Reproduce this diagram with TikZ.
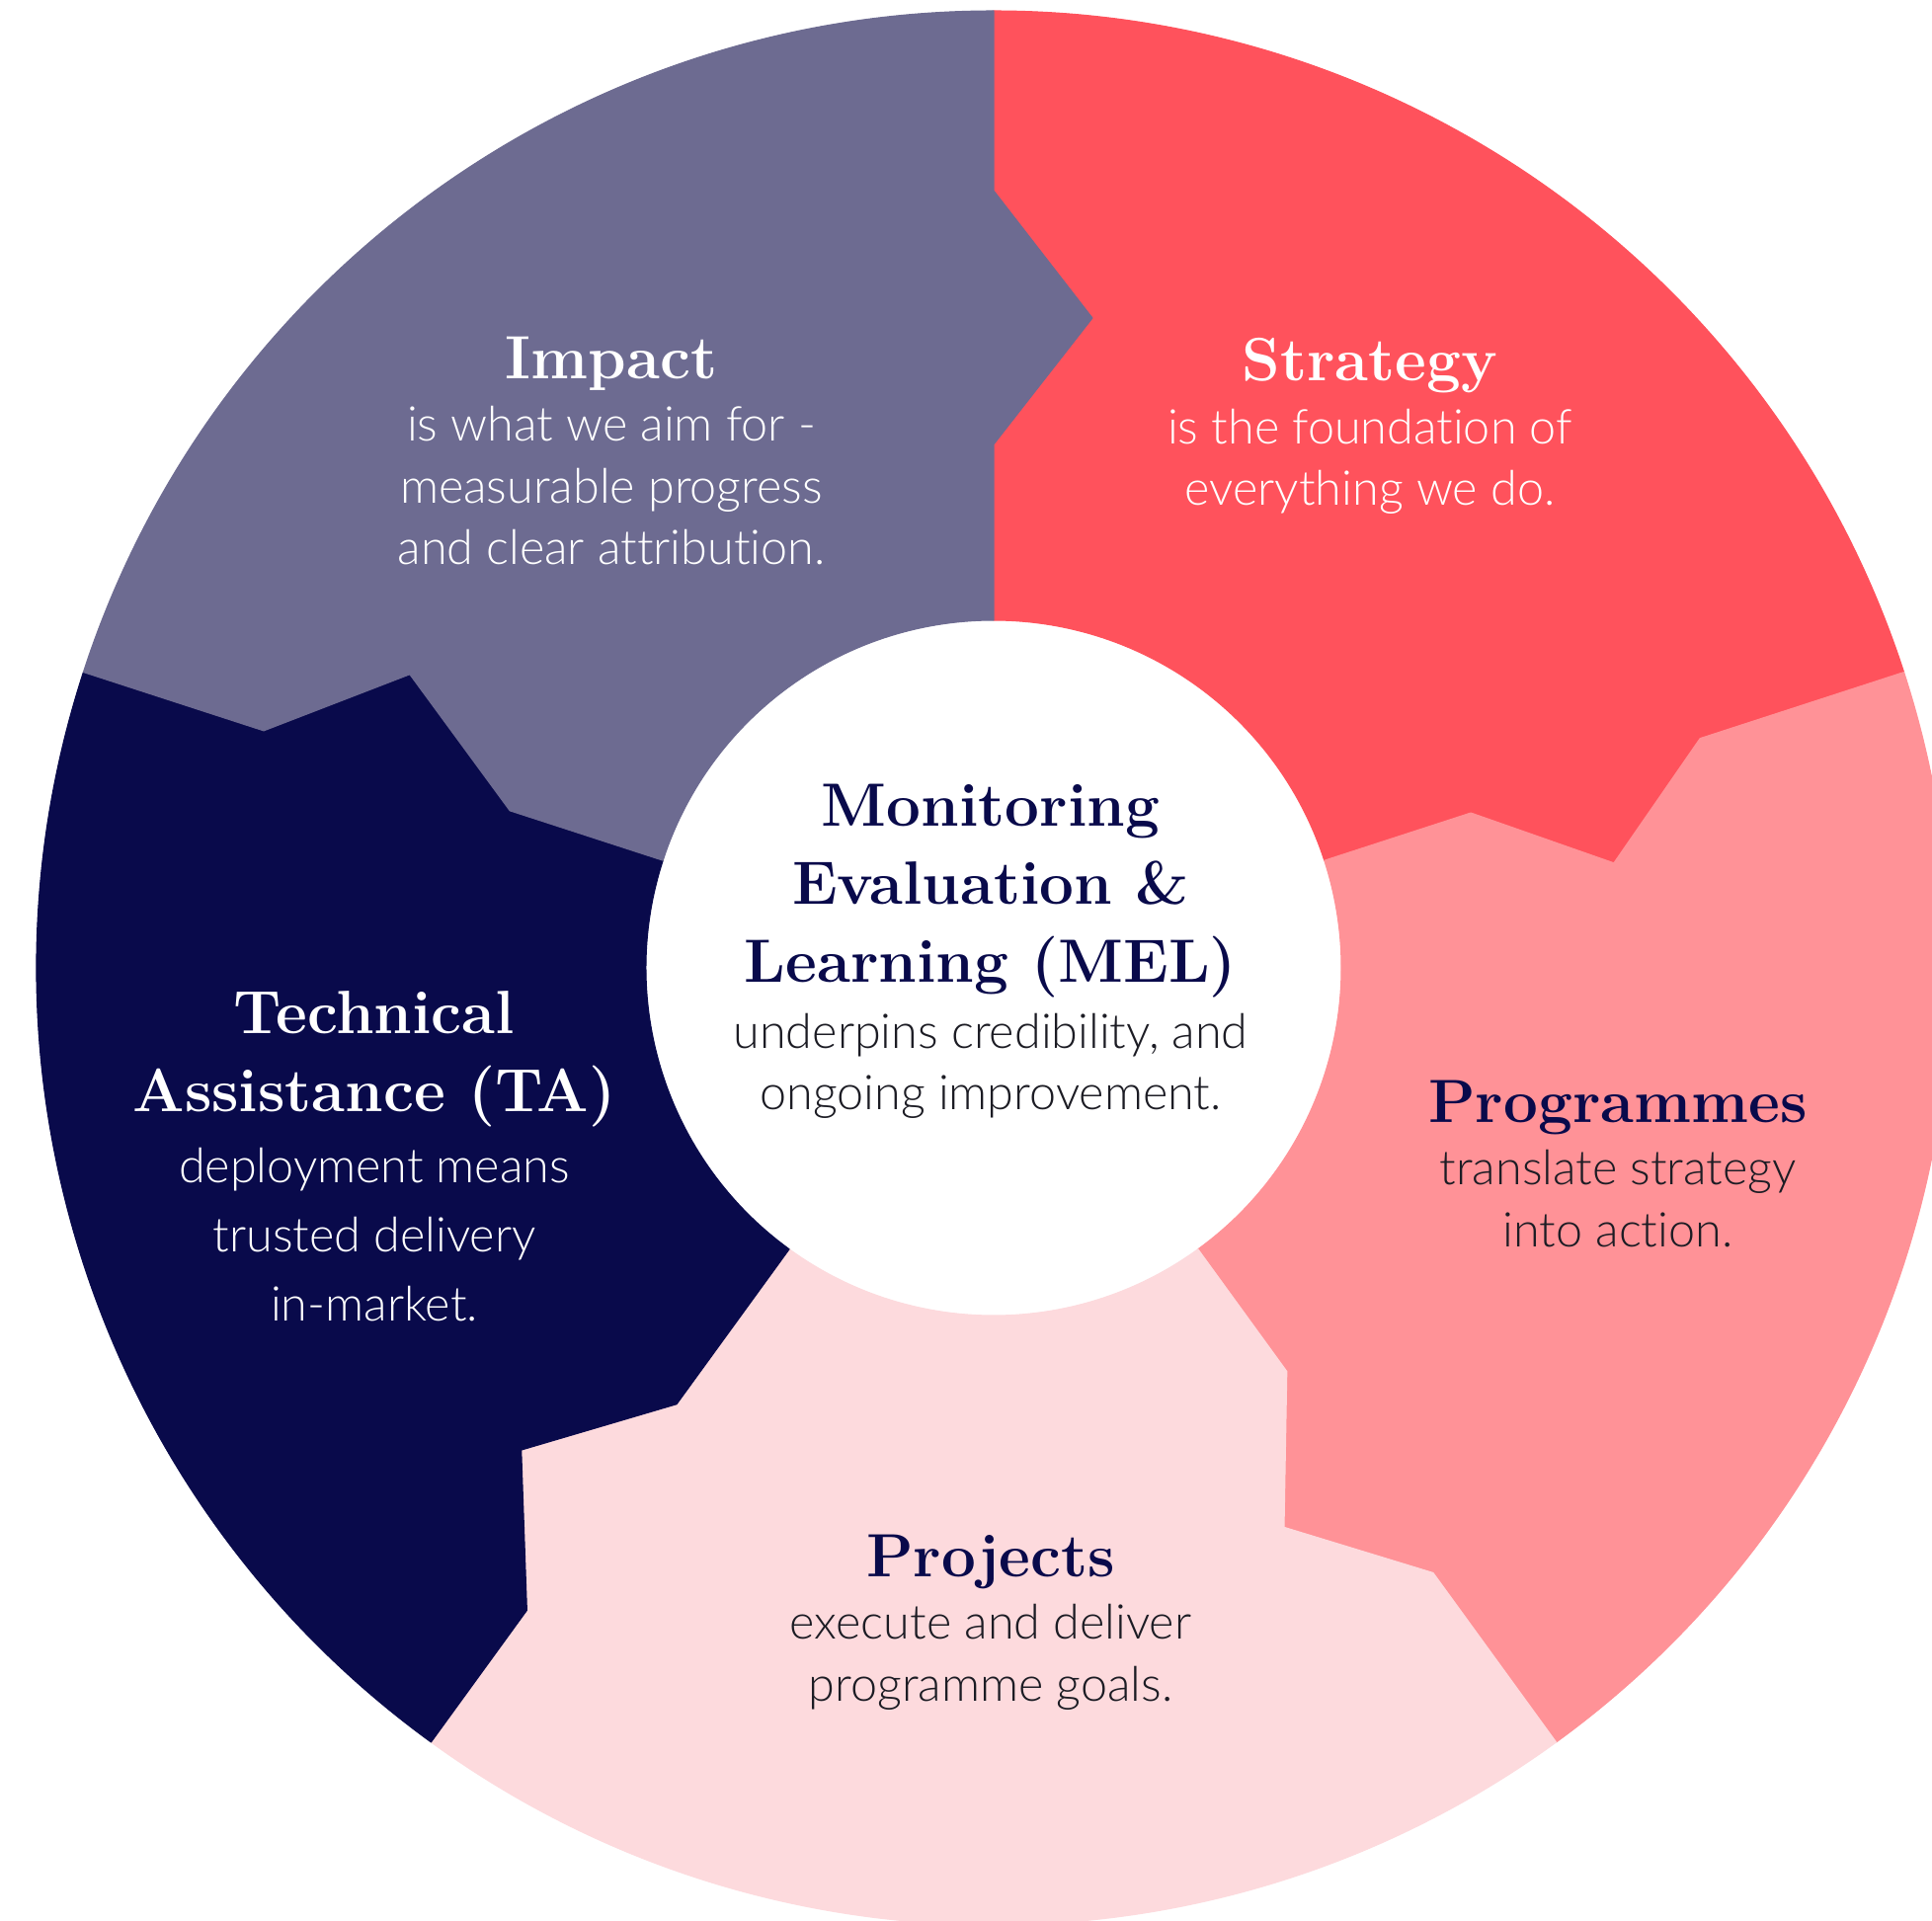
\documentclass[tikz,border=0pt]{standalone}
\usepackage{fontspec}
\usetikzlibrary{positioning,calc}
\newfontfamily\bodyfont{Lato Light}[Ligatures=NoCommon]
\definecolor{impactgray}{RGB}{109,107,145}
\definecolor{strategyred}{RGB}{255,82,92}
\definecolor{programmepink}{RGB}{255,146,151}
\definecolor{projectrose}{RGB}{253,218,221}
\definecolor{tanavy}{RGB}{9,10,75}
\definecolor{bodyblack}{RGB}{28,28,36}

\begin{document}
\begin{tikzpicture}[segment/.style={fill=#1,draw=#1,line width=.3pt,line join=round},
    heading/.style={font=\fontsize{17.6}{22.4}\selectfont\bfseries,align=center,inner sep=0pt},
    blurb/.style={font=\bodyfont\fontsize{13.8}{17.75}\selectfont,align=center,inner sep=0pt},
    node distance=4.2pt]

  \useasboundingbox[fill=white] (-10.06,-9.65) rectangle (9.50,9.80);
  \clip (-10.06,-9.65) rectangle (9.50,9.80);

  % spokes: name/angle/notch start/notch end/tip radius/tip offset
  \foreach \n/\a/\ri/\ro/\rt/\d in {A/90/5.30/7.87/6.58/1.00, B/18/5.08/7.52/6.30/0.93,
      C/-54/5.05/7.57/6.31/0.95, D/-126/5.46/8.04/6.76/1.00, E/162/5.15/7.77/6.54/1.00}{
    \coordinate (\n-in)  at (\a:3.52);
    \coordinate (\n-1)   at (\a:\ri);
    \coordinate (\n-tip) at ($(\a:\rt)+(\a-90:\d)$);
    \coordinate (\n-2)   at (\a:\ro);
    \coordinate (\n-out) at (\a:9.69);
  }

  \path[segment=strategyred]   (A-out) arc[start angle=90,end angle=18,radius=9.69]
        -- (B-2) -- (B-tip) -- (B-1) -- (B-in) arc[start angle=18,end angle=90,radius=3.52]
        -- (A-1) -- (A-tip) -- (A-2) -- cycle;
  \path[segment=programmepink] (B-out) arc[start angle=18,end angle=-54,radius=9.69]
        -- (C-2) -- (C-tip) -- (C-1) -- (C-in) arc[start angle=-54,end angle=18,radius=3.52]
        -- (B-1) -- (B-tip) -- (B-2) -- cycle;
  \path[segment=projectrose]   (C-out) arc[start angle=-54,end angle=-126,radius=9.69]
        -- (D-2) -- (D-tip) -- (D-1) -- (D-in) arc[start angle=-126,end angle=-54,radius=3.52]
        -- (C-1) -- (C-tip) -- (C-2) -- cycle;
  \path[segment=tanavy]        (D-out) arc[start angle=-126,end angle=-198,radius=9.69]
        -- (E-2) -- (E-tip) -- (E-1) -- (E-in) arc[start angle=-198,end angle=-126,radius=3.52]
        -- (D-1) -- (D-tip) -- (D-2) -- cycle;
  \path[segment=impactgray]    (E-out) arc[start angle=162,end angle=90,radius=9.69]
        -- (A-2) -- (A-tip) -- (A-1) -- (A-in) arc[start angle=90,end angle=162,radius=3.52]
        -- (E-1) -- (E-tip) -- (E-2) -- cycle;

  \node[heading,text=white] (Impact) at (-3.87,6.12) {Impact};
  \node[blurb,text=white,below=of Impact] (ImpactText) {is what we aim for -\\measurable progress\\and clear attribution.};

  \node[heading,text=white] (Strategy) at (3.81,6.10) {Strategy};
  \node[blurb,text=white,below=of Strategy] (StrategyText) {is the foundation of\\everything we do.};

  \node[heading,text=tanavy] (Programmes) at (6.32,-1.41) {Programmes};
  \node[blurb,text=bodyblack,below=of Programmes] (ProgrammesText) {translate strategy\\into action.};

  \node[heading,text=tanavy] (Projects) at (-0.03,-6.01) {Projects};
  \node[blurb,text=bodyblack,below=of Projects] (ProjectsText) {execute and deliver\\programme goals.};

  \node[heading,text=white] (TA) at (-6.27,-0.92) {Technical\\Assistance (TA)};
  \node[blurb,text=white,below=5.8pt of TA,font=\bodyfont\fontsize{13.8}{19.9}\selectfont] (TAText) {deployment means\\trusted delivery\\in-market.};

  \node[heading,text=tanavy] (MEL) at (-0.03,0.78) {Monitoring\\Evaluation \&\\Learning (MEL)};
  \node[blurb,text=bodyblack,below=of MEL] (MELText) {underpins credibility, and\\ongoing improvement.};

\end{tikzpicture}
\end{document}
